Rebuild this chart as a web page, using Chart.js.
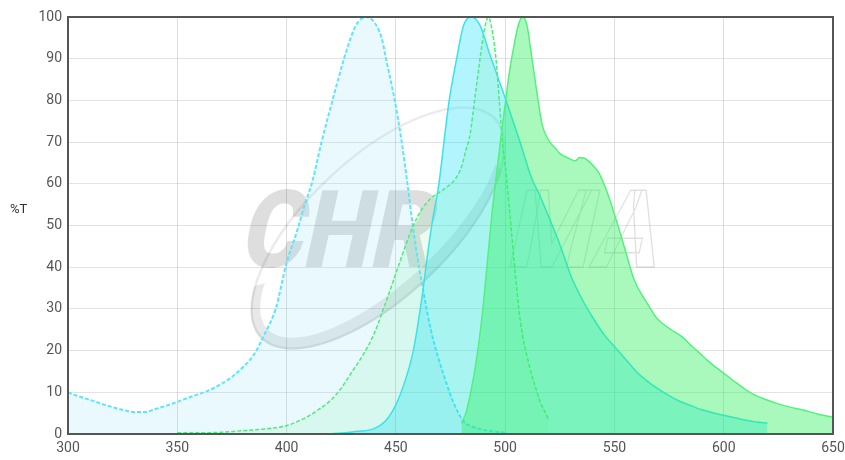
<!DOCTYPE html>
<html>
<head>
<meta charset="utf-8">
<script src="https://cdn.jsdelivr.net/npm/chart.js@4"></script>
<style>
  html, body { margin: 0; padding: 0; background: #fff; }
  #wrap { width: 845px; height: 460px; }
</style>
</head>
<body>
<div id="wrap"><canvas id="spectra"></canvas></div>
<script>
// wavelength ticks
const xTicks = [300, 350, 400, 450, 500, 550, 600, 650];
const yTicks = [0, 10, 20, 30, 40, 50, 60, 70, 80, 90, 100];

// cyan excitation (dashed)
const cyanExNm = [300, 305, 310, 315, 320, 325, 330, 335, 340, 345, 350, 355, 360, 365, 370, 375, 380, 385, 390, 395, 400, 405, 408, 411.5, 416, 421, 426, 429, 431.5, 434, 436.5, 439, 441.5, 443.5, 445.5, 449.5, 452.7, 455.3, 458, 460, 463, 466, 469, 472, 476, 481, 485, 490, 495, 500];
const cyanExT  = [10, 9.0, 8.2, 7.3, 6.5, 5.8, 5.3, 5.3, 6.0, 6.8, 7.7, 8.7, 9.6, 10.6, 12.0, 13.7, 16, 19, 24, 30, 41, 49, 54.5, 60, 70, 80, 89.5, 94.5, 97.8, 99.5, 100, 99.4, 97.6, 95, 90, 80, 70, 60, 49, 42, 33, 25, 19, 14, 8, 3, 1.8, 1.0, 0.6, 0.3];

// cyan emission
const cyanEmNm = [420, 430, 440, 445, 450, 455, 458, 462, 465, 467, 469.7, 472, 474.4, 477.8, 481, 484.7, 488.5, 493, 500.4, 506.8, 512, 516, 520, 525, 530, 535, 540, 545, 550, 555, 560, 565, 570, 575, 580, 585, 590, 595, 600, 605, 610, 615, 620];
const cyanEmT  = [0, 0.5, 1.3, 3, 7, 14, 20, 33, 45, 52, 60, 70, 80, 90, 98, 100, 98, 91, 80, 70, 61.5, 57, 52, 45.5, 38, 32.5, 28, 24, 21, 18, 15, 12.7, 10.8, 9.2, 7.8, 6.8, 5.8, 5.1, 4.5, 3.9, 3.3, 2.9, 2.6];

// green excitation (dashed)
const greenExNm = [350, 360, 370, 380, 390, 400, 405, 410, 415, 420, 425, 430, 435, 440, 445, 450, 455, 458, 462, 466, 470, 474, 477, 480, 482, 484, 486, 488.5, 490.5, 492.3, 494, 495.8, 497.3, 498.8, 500.5, 503, 504, 507, 511, 514, 516, 518, 520];
const greenExT  = [0.3, 0.3, 0.4, 0.8, 1.2, 2, 3, 4.3, 6, 8, 11, 15, 19, 24, 31, 38.5, 46, 50, 54, 56.5, 58, 59.5, 61, 64, 68, 72, 80, 90, 97, 100, 97, 90, 80, 70, 62, 48, 42, 27, 16.5, 11, 7.8, 5.5, 3.4];

// green emission
const greenEmNm = [480, 482, 485, 488, 490, 492, 494, 496, 498, 500, 502, 504, 506, 508, 510, 512, 514.5, 517, 520.5, 523, 525, 527, 530, 532, 534, 536, 538, 540, 543, 547, 551, 555, 559, 563, 566, 569, 572, 576, 581, 585, 589, 594, 600, 606, 612, 618, 624, 630, 636, 643, 650];
const greenEmT  = [2.5, 5, 12, 22, 31, 42, 53, 62, 71, 79, 87, 93, 98, 100, 98, 91, 82, 74, 70, 68.5, 67.3, 66.6, 65.9, 65.5, 66.3, 66.2, 65.5, 64.5, 62.5, 57.5, 51, 44, 37, 33, 30.5, 28, 26.5, 25, 23.3, 21.3, 19.4, 17, 14.6, 12.2, 10, 8.5, 7.4, 6.5, 5.8, 4.8, 4];

const pts = (xs, ys) => xs.map((x, i) => ({ x, y: ys[i] }));

// faint CHROMA watermark behind the curves, plus frame and axis label
const decor = {
  id: 'decor',
  beforeDatasetsDraw(chart) {
    const { ctx, chartArea: a } = chart;
    ctx.save();
    ctx.beginPath();
    ctx.rect(a.left, a.top, a.right - a.left, a.bottom - a.top);
    ctx.clip();

    // swoosh: thin ring + thick lower crescent
    const cx = 378, cy = 228, rot = -0.75;
    ctx.strokeStyle = 'rgba(0,0,0,0.08)';
    ctx.lineWidth = 2.5;
    ctx.beginPath();
    ctx.ellipse(cx, cy, 160, 70, rot, 0, Math.PI * 2);
    ctx.stroke();
    ctx.fillStyle = 'rgba(0,0,0,0.09)';
    ctx.beginPath();
    ctx.ellipse(cx, cy, 161, 71, rot, 0.2 * Math.PI, 1.2 * Math.PI);
    ctx.ellipse(cx + 2, cy - 4, 154, 60, rot, 1.2 * Math.PI, 0.2 * Math.PI, true);
    ctx.closePath();
    ctx.fill();

    // lettering
    ctx.setTransform(0.88, 0, -0.22, 1, 0, 0);
    ctx.font = '900 108px Roboto';
    ctx.textBaseline = 'alphabetic';
    ctx.fillStyle = 'rgba(0,0,0,0.13)';
    ctx.fillText('CHR', (238 + 0.22 * 267) / 0.88, 267);
    ctx.strokeStyle = 'rgba(0,0,0,0.12)';
    ctx.lineWidth = 1.5;
    ctx.strokeText('MA', (505 + 0.22 * 267) / 0.88, 267);
    ctx.restore();
  },
  afterDraw(chart) {
    const { ctx, chartArea: a } = chart;
    ctx.save();
    ctx.strokeStyle = '#555';
    ctx.lineWidth = 2;
    ctx.strokeRect(a.left, a.top, a.right - a.left, a.bottom - a.top);
    ctx.fillStyle = '#333';
    ctx.font = '13px Roboto';
    ctx.textBaseline = 'middle';
    ctx.fillText('%T', 10, 210);
    ctx.restore();
  }
};

new Chart(document.getElementById('spectra'), {
  type: 'line',
  data: {
    datasets: [
      {
        label: 'Cyan excitation',
        data: pts(cyanExNm, cyanExT),
        borderColor: 'rgb(95,228,255)',
        backgroundColor: 'rgba(110,215,245,0.15)',
        borderDash: [4, 2],
        borderWidth: 2,
        fill: 'origin',
        order: 4,
      },
      {
        label: 'Cyan emission',
        data: pts(cyanEmNm, cyanEmT),
        borderColor: 'rgb(60,225,240)',
        backgroundColor: 'rgba(0,222,255,0.3)',
        borderWidth: 1.5,
        fill: 'origin',
        order: 3,
      },
      {
        label: 'Green excitation',
        data: pts(greenExNm, greenExT),
        borderColor: 'rgb(80,235,125)',
        backgroundColor: 'rgba(80,235,130,0.12)',
        borderDash: [4, 2],
        borderWidth: 1.5,
        fill: 'origin',
        order: 2,
      },
      {
        label: 'Green emission',
        data: pts(greenEmNm, greenEmT),
        borderColor: 'rgb(85,240,125)',
        backgroundColor: 'rgba(40,240,90,0.4)',
        borderWidth: 1.5,
        fill: 'origin',
        order: 1,
      },
    ],
  },
  options: {
    responsive: true,
    maintainAspectRatio: false,
    animation: false,
    layout: { autoPadding: false, padding: { top: 17, right: 12, left: 0, bottom: 0 } },
    elements: { point: { radius: 0 }, line: { tension: 0.3, cubicInterpolationMode: 'monotone' } },
    plugins: { legend: { display: false }, tooltip: { enabled: false } },
    scales: {
      x: {
        type: 'linear',
        min: xTicks[0],
        max: xTicks[xTicks.length - 1],
        afterBuildTicks: s => { s.ticks = xTicks.map(v => ({ value: v })); },
        afterFit: s => { s.height = 26; s.paddingLeft = 0; s.paddingRight = 0; },
        grid: { color: 'rgba(0,0,0,0.13)', drawTicks: false },
        border: { display: false },
        ticks: { color: '#555', font: { family: 'Roboto', size: 14 }, padding: 6, maxRotation: 0 },
      },
      y: {
        min: 0,
        max: 100,
        afterBuildTicks: s => { s.ticks = yTicks.map(v => ({ value: v })); },
        afterFit: s => { s.width = 68; s.paddingTop = 0; s.paddingBottom = 0; },
        grid: { color: 'rgba(0,0,0,0.11)', drawTicks: false },
        border: { display: false },
        ticks: { color: '#555', font: { family: 'Roboto', size: 14 }, padding: 6 },
      },
    },
  },
  plugins: [decor],
});
</script>
</body>
</html>
